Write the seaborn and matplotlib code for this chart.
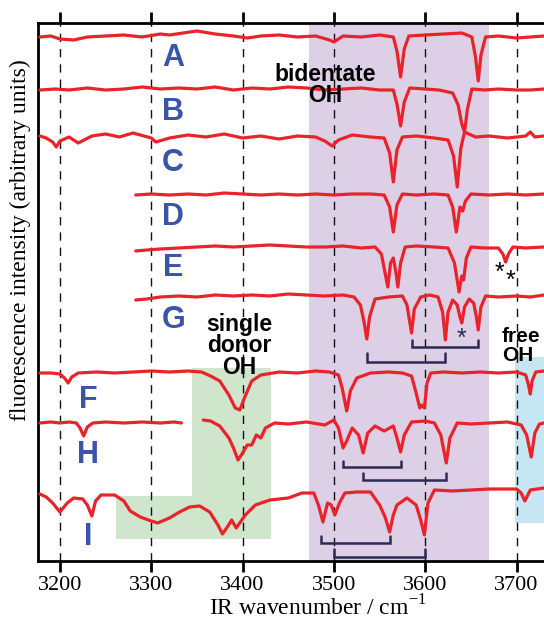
import numpy as np
import pandas as pd
import matplotlib
matplotlib.use("Agg")
import matplotlib.pyplot as plt
import seaborn as sns

# ---- data (y in px-like units, 0 = baseline, dips negative) ----
a_x = [3178, 3190, 3200, 3215, 3230, 3250, 3270, 3290, 3310, 3320, 3335, 3350, 3370, 3390, 3405, 3420, 3440,
       3460, 3480, 3495, 3500, 3510, 3530, 3550, 3565, 3569, 3573, 3577, 3582, 3600, 3620, 3640, 3651, 3655,
       3658, 3661, 3666, 3680, 3700, 3715, 3730]
a_y = [0, 1, -2, -3, 0, 1, 2, 0, 3, 2, 4, 6, 3, 1, -1, 1, 2, 0, 1, -3, -5, 1, 0, 2, 0, -14, -40, -12, 1, 2, 3, 4,
       0, -20, -44, -18, 0, 1, -1, 0, 1]

b_x = [3178, 3195, 3210, 3230, 3250, 3270, 3290, 3310, 3330, 3350, 3370, 3390, 3410, 3430, 3450, 3470, 3490,
       3510, 3530, 3550, 3565, 3569, 3573, 3577, 3583, 3600, 3615, 3630, 3636, 3640, 3643, 3646, 3651, 3665,
       3680, 3700, 3715, 3730]
b_y = [0, 1, 0, 2, 0, 1, 3, 1, 2, 1, 3, 0, 2, 1, 3, 2, 0, 1, 2, 0, 0, -14, -36, -12, 2, 1, 0, -3, -15, -34, -42,
       -20, 1, 0, 1, 0, 0, 1]

c_x = [3178, 3185, 3192, 3196, 3200, 3210, 3220, 3235, 3250, 3265, 3280, 3300, 3305, 3320, 3340, 3360, 3380,
       3400, 3420, 3440, 3460, 3480, 3490, 3498, 3505, 3520, 3540, 3555, 3561, 3565, 3569, 3575, 3590, 3610,
       3625, 3631, 3635, 3639, 3643, 3655, 3670, 3690, 3710, 3715, 3720, 3730]
c_y = [2, 0, -4, -9, -3, 1, -5, 2, 4, 1, 5, 0, -4, 0, 3, 1, 4, 0, 2, -1, 2, 1, -3, -8, -2, 3, 1, 0, -15, -44,
       -12, 1, 2, 0, -2, -18, -49, -10, 6, 1, 2, 0, 2, 6, 1, 2]

d_x = [3283, 3300, 3320, 3340, 3360, 3380, 3400, 3420, 3440, 3460, 3480, 3500, 3520, 3540, 3555, 3561, 3565,
       3569, 3575, 3590, 3610, 3625, 3630, 3634, 3638, 3641, 3644, 3650, 3670, 3690, 3710, 3730]
d_y = [0, 1, 0, 1, 0, 2, 1, 0, 1, 0, 1, 0, 1, 1, 0, -12, -37, -10, 1, 0, 1, 0, -12, -37, -12, -16, -6, 1, 0, 1,
       0, 1]

e_x = [3283, 3295, 3310, 3330, 3350, 3370, 3390, 3410, 3430, 3450, 3470, 3490, 3510, 3530, 3545, 3552, 3556,
       3559, 3562, 3565, 3568, 3570, 3573, 3578, 3590, 3610, 3625, 3632, 3637, 3640, 3642, 3645, 3650, 3665,
       3680, 3685, 3688, 3691, 3696, 3710, 3730]
e_y = [-3, -2, -1, 0, 1, 2, 1, 2, 3, 2, 1, 1, 2, 0, 1, -6, -25, -39, -15, -10, -25, -39, -15, 1, 2, 1, 0, -15,
       -44, -28, -32, -10, 1, 0, 0, -6, -14, -6, 1, 0, 1]

g_x = [3283, 3295, 3310, 3330, 3350, 3370, 3390, 3410, 3430, 3450, 3470, 3490, 3510, 3522, 3529, 3533, 3536,
       3539, 3545, 3560, 3575, 3580, 3583, 3585, 3588, 3595, 3605, 3614, 3619, 3622, 3625, 3630, 3635, 3638,
       3640, 3643, 3648, 3653, 3656, 3658, 3661, 3666, 3680, 3700, 3715, 3730]
g_y = [-3, -2, 0, 1, 0, 2, 1, 2, 1, 3, 2, 1, 2, 0, -8, -25, -42, -20, -2, 0, 1, -8, -25, -36, -12, 0, 2, 0,
       -15, -43, -15, -3, -8, -20, -26, -10, -2, -6, -20, -33, -10, 1, 0, 1, 0, 2]

f_x = [3178, 3190, 3200, 3205, 3209, 3213, 3220, 3240, 3260, 3280, 3300, 3320, 3340, 3355, 3365, 3375, 3385,
       3392, 3397, 3402, 3410, 3420, 3440, 3460, 3480, 3495, 3505, 3509, 3514, 3518, 3525, 3540, 3560, 3575,
       3585, 3590, 3594, 3596, 3599, 3602, 3606, 3620, 3640, 3660, 3680, 3700, 3710, 3713, 3715, 3717, 3721,
       3730]
f_y = [0, 0, -1, -5, -10, -4, 0, 1, 0, 1, 2, 1, 2, 1, -3, -8, -22, -35, -37, -25, -8, -2, 1, 0, 2, 1, -2, -15,
       -38, -18, -5, 0, 1, 0, -3, -20, -35, -32, -35, -10, 0, 1, 0, 1, 0, 1, -2, -12, -21, -8, 1, 2]

h1_x = [3178, 3190, 3200, 3210, 3218, 3222, 3226, 3230, 3236, 3250, 3270, 3290, 3310, 3325, 3333]
h1_y = [0, 1, 0, 1, 0, -5, -13, -4, 0, 1, 0, 1, 0, 1, 0]
h2_x = [3357, 3365, 3375, 3385, 3390, 3395, 3400, 3405, 3410, 3415, 3420, 3425, 3435, 3450, 3470, 3490, 3500,
        3505, 3510, 3514, 3520, 3527, 3532, 3537, 3545, 3555, 3565, 3569, 3573, 3577, 3585, 3600, 3610, 3617,
        3623, 3627, 3635, 3650, 3670, 3690, 3705, 3711, 3716, 3720, 3725, 3730]
h2_y = [3, 2, -3, -15, -25, -37, -30, -22, -22, -12, -15, -5, 0, -1, 1, -2, 3, -5, -25, -18, -5, -12, -30, -10,
        -3, -8, -3, -15, -29, -12, 1, 2, 0, -12, -40, -15, 0, -1, 0, 1, -2, -12, -34, -10, -1, 0]

i_x = [3178, 3185, 3192, 3200, 3208, 3215, 3225, 3230, 3235, 3239, 3245, 3260, 3270, 3277, 3288, 3300, 3307,
       3320, 3331, 3342, 3353, 3364, 3373, 3378, 3384, 3388, 3393, 3403, 3414, 3430, 3450, 3465, 3478, 3483,
       3488, 3493, 3497, 3501, 3506, 3512, 3525, 3540, 3550, 3556, 3561, 3565, 3569, 3580, 3590, 3595, 3599,
       3603, 3610, 3630, 3650, 3670, 3690, 3700, 3705, 3709, 3715, 3730]
i_y = [1, -2, -8, -17, -8, -3, -4, -10, -21, -6, 0, 0, -6, -16, -22, -26, -28, -23, -17, -12, -11, -17, -30,
       -39, -31, -25, -33, -20, -10, -5, -3, 2, 2, -10, -27, -8, -10, -20, -8, 2, 3, 3, -10, -22, -37, -20, -10,
       -3, -10, -25, -40, -8, 5, 4, 5, 6, 6, 6, 2, -6, 5, 7]

trace_names = ["A", "B", "C", "D", "E", "G", "F", "H", "H", "I"]
trace_x = [a_x, b_x, c_x, d_x, e_x, g_x, f_x, h1_x, h2_x, i_x]
trace_y = [a_y, b_y, c_y, d_y, e_y, g_y, f_y, h1_y, h2_y, i_y]
trace_offset = [524, 471, 423, 366, 313, 264, 188, 138, 138, 66]

# trace letters: (name, x, y)
letters = [("A", 3324, 503), ("B", 3324, 449), ("C", 3324, 398), ("D", 3324, 344), ("E", 3324, 293),
           ("G", 3324, 241), ("F", 3231, 161), ("H", 3231, 106), ("I", 3231, 24)]

# assignment brackets: (x_start, x_end, y_line, y_tick)
brackets = [(3585, 3658, 214, 221), (3536, 3622, 199, 208),
            (3510, 3573, 94, 100), (3532, 3623, 81, 88),
            (3486, 3561, 18, 25), (3500, 3600, 4, 12)]

# shaded regions: (x0, x1, y0, y1, colour)
regions = [(3473, 3670, 0, 536, "#ddd0e6"),
           (3345, 3431, 22, 193, "#cfe6cc"),
           (3261, 3345, 22, 65, "#cfe6cc"),
           (3698, 3735, 38, 204, "#c6e6f4")]

grid_x = [3200, 3300, 3400, 3500, 3600, 3700]

RED = "#e8232a"
BLUE = "#3a55a8"
NAVY = "#2b2a55"

sns.set_theme(style="white")
plt.rcParams["font.family"] = ["Liberation Serif", "DejaVu Serif"]
plt.rcParams["text.color"] = "black"
plt.rcParams["axes.labelcolor"] = "black"
sans = ["Liberation Sans", "DejaVu Sans"]

fig = plt.figure(figsize=(5.44, 6.24), dpi=100)
ax = fig.add_axes([38 / 544, 63 / 624, 506 / 544, 538 / 624])

for x0, x1, y0, y1, col in regions:
    ax.add_patch(plt.Rectangle((x0, y0), x1 - x0, y1 - y0, color=col, lw=0, zorder=0))

for gx in grid_x:
    ax.axvline(gx, color="#111111", lw=1.0, linestyle=(0, (6, 5)), zorder=1)

for name, xs, ys, off in zip(trace_names, trace_x, trace_y, trace_offset):
    df = pd.DataFrame({"wn": xs, "sig": np.array(ys) + off})
    sns.lineplot(data=df, x="wn", y="sig", ax=ax, color=RED, lw=2.3, sort=False,
                 estimator=None, zorder=3)

for x0, x1, yl, yt in brackets:
    ax.plot([x0, x0, x1, x1], [yt, yl, yl, yt], color=NAVY, lw=1.8, zorder=4,
            solid_joinstyle="miter")

for name, lx, ly in letters:
    ax.text(lx, ly, name, color=BLUE, fontsize=22, fontweight="bold", ha="center", va="center",
            family=sans, zorder=5)

ax.text(3491, 476, "bidentate\nOH", fontsize=16.5, fontweight="bold", ha="center", va="center",
        linespacing=0.9, family=sans, color="black", zorder=5)
ax.text(3396, 215, "single\ndonor\nOH", fontsize=16.5, fontweight="bold", ha="center", va="center",
        linespacing=0.9, family=sans, color="black", zorder=5)
ax.text(3684, 215, "free\nOH", fontsize=15, fontweight="bold", ha="left", va="center",
        linespacing=0.95, family=sans, color="black", zorder=5)
ax.text(3640, 222, "*", fontsize=18, color=NAVY, ha="center", va="center", family=sans, zorder=5)
ax.text(3681, 288, "*", fontsize=18, color="black", ha="center", va="center", family=sans, zorder=5)
ax.text(3693, 280, "*", fontsize=18, color="black", ha="center", va="center", family=sans, zorder=5)

ax.set_xlim(3176, 3730)
ax.set_ylim(0, 538)
ax.set_xticks(grid_x)
ax.set_yticks([])
ax.tick_params(axis="x", which="both", direction="out", length=8, width=2, top=True, bottom=True,
               labeltop=False, labelsize=16, pad=3, colors="black")
for side in ["left", "bottom", "top"]:
    ax.spines[side].set_visible(True)
    ax.spines[side].set_linewidth(2)
    ax.spines[side].set_color("black")
ax.spines["right"].set_visible(False)

ax.set_xlabel("IR wavenumber / cm$^{\\mathregular{-1}}$", fontsize=17, color="black")
ax.set_ylabel("fluorescence intensity (arbitrary units)", fontsize=17, color="black")
ax.xaxis.set_label_coords(0.553, -0.063)
ax.yaxis.set_label_coords(-0.014, 0.597)

fig.savefig("out.png", dpi=100)
